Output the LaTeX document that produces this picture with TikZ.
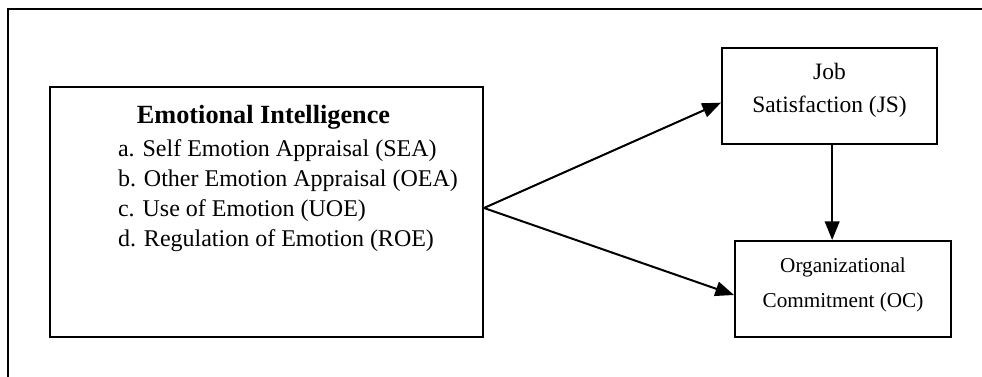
\documentclass[tikz,border=0pt]{standalone}
\usepackage{fontspec}
\setmainfont{Liberation Serif}
\usetikzlibrary{arrows.meta}

\begin{document}
\begin{tikzpicture}[x=0.75pt,y=-0.75pt,line width=1.5pt,
		box/.style = {rectangle,draw,inner sep=0pt},
		item/.style = {anchor=base west,inner sep=0pt,font=\fontsize{18}{21}\selectfont},
		line/.style = {anchor=base,inner sep=0pt},
		link/.style = {-{Triangle[length=14pt,width=11pt]}}]
		
		\useasboundingbox (0,0) rectangle (982,377);
		% outer frame, only its top and left edges are in the picture
		\draw (982,9) -- (8,9) -- (8,377);
		
		\node[box,minimum width=324.75pt,minimum height=187.5pt] (ei) at (266.5,212) {};
		\node[box,minimum width=161.25pt,minimum height=72pt] (js) at (829.5,96) {};
		\node[box,minimum width=162pt,minimum height=72pt] (oc) at (843,289) {};
		
		\node[line,font=\bfseries\fontsize{19.7}{24}\selectfont] (eititle) at (263.5,124) {Emotional Intelligence};
		\foreach \lbl/\txt [count=\i] in {a/Self Emotion Appraisal (SEA),b/Other Emotion Appraisal (OEA),
			c/Use of Emotion (UOE),d/Regulation of Emotion (ROE)}
			\node[item] (item\i) at (117,{157+30*(\i-1)}) {\lbl. \txt};
		
		\node[line,font=\fontsize{17.6}{21}\selectfont] (js1) at (829.5,80) {Job};
		\node[line,font=\fontsize{17.6}{21}\selectfont] (js2) at (829.5,113) {Satisfaction (JS)};
		\node[line,font=\fontsize{15.9}{19}\selectfont] (oc1) at (843,273) {Organizational};
		\node[line,font=\fontsize{15.9}{19}\selectfont] (oc2) at (843,308) {Commitment (OC)};
		
		\coordinate (fork) at ([yshift=3pt]ei.east);
		\draw[link] (fork) -- ([yshift=-5pt]js.west);
		\draw[link] (fork) -- ([yshift=-4.5pt]oc.west);
		\draw[link] ([xshift=2pt]js.south) -- ([xshift=2pt]js.south |- oc.north);
		\end{tikzpicture}
\end{document}
